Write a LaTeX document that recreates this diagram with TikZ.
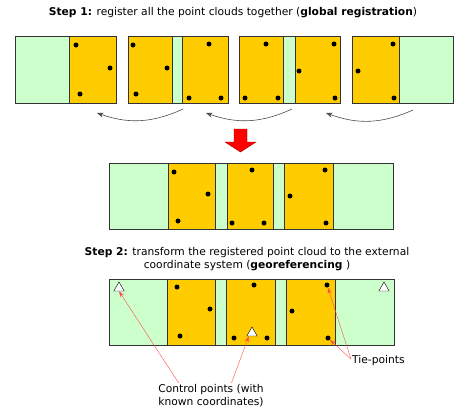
\documentclass[tikz,border=0pt]{standalone}
\usepackage{fontspec}
\setmainfont{DejaVu Sans}
\usetikzlibrary{arrows.meta,positioning,shapes.geometric,calc}

\definecolor{wolke}{HTML}{FFCC00}
\definecolor{rand}{HTML}{CCFFCC}
\definecolor{linie}{HTML}{333333}
\definecolor{zeiger}{HTML}{FF4D4D}

\tikzset{
	gruen/.style={fill=rand,draw=linie,thick},
	gelb/.style={fill=wolke,draw=linie,thick},
	punkt/.style={circle,fill=black,inner sep=0pt,minimum size=5pt},
	pass/.style={regular polygon,regular polygon sides=3,draw=black,fill=white,
		inner sep=0pt,minimum size=12pt},
	titel/.style={font=\fontsize{10.7}{13}\selectfont,align=center},
	notiz/.style={font=\fontsize{10.7}{13}\selectfont,align=left,inner sep=1pt},
}

\begin{document}
\begin{tikzpicture}[x=1pt,y=-1pt]
	\useasboundingbox (0,0) rectangle (459,410);

	\node[titel] (schritteins) at (233,13) {\textbf{Step 1:} register all the point clouds together (\textbf{global registration})};

	% einzelne Punktwolken
	\draw[gruen] (15,36) rectangle (69,103);
	\draw[gelb] (69,36) rectangle (116,103);
	\draw[gelb] (128,36) rectangle (172,103);
	\draw[gruen] (172,36) rectangle (182,103);
	\draw[gelb] (182,36) rectangle (228,103);
	\draw[gelb] (239,36) rectangle (283,103);
	\draw[gruen] (283,36) rectangle (295,103);
	\draw[gelb] (295,36) rectangle (340,103);
	\draw[gelb] (352,36) rectangle (399,103);
	\draw[gruen] (399,36) rectangle (453,103);

	\begin{scope}[every node/.style={punkt}]
		\node (ea) at (76,45) {};
		\node (eb) at (110,68) {};
		\node (ec) at (80,94) {};
		\node (za) at (133,45) {};
		\node (zb) at (167,68) {};
		\node (zc) at (136,94) {};
		\node (zd) at (209,44) {};
		\node (ze) at (189,98) {};
		\node (zf) at (221,98) {};
		\node (da) at (266,44) {};
		\node (db) at (245,98) {};
		\node (dc) at (278,98) {};
		\node (dd) at (334,44) {};
		\node (de) at (299,71) {};
		\node (df) at (335,98) {};
		\node (va) at (393,44) {};
		\node (vb) at (358,71) {};
		\node (vc) at (394,98) {};
	\end{scope}

	\coordinate (eins) at (97,113);
	\coordinate (zwei) at (183,109);
	\coordinate (zweib) at (206,113);
	\coordinate (drei) at (292,109);
	\coordinate (dreib) at (326,113);
	\coordinate (vier) at (413,110);

	\begin{scope}[>={Stealth[length=6.5pt,width=5pt]},draw=black!70,semithick]
		\draw[->] (zwei) to[bend left=22] (eins);
		\draw[->] (drei) to[bend left=22] (zweib);
		\draw[->] (vier) to[bend left=22] (dreib);
	\end{scope}

	% roter Pfeil
	\draw[fill=red,draw=red!60!black,thin] (234,129) -- (247,129) -- (247,142) -- (256,142)
		-- (240.5,152) -- (225,142) -- (234,142) -- cycle;

	% registrierte Punktwolke
	\draw[gruen] (109,163) rectangle (168,229);
	\draw[gelb] (168,163) rectangle (215,229);
	\draw[gruen] (215,163) rectangle (227,229);
	\draw[gelb] (227,163) rectangle (273,229);
	\draw[gruen] (273,163) rectangle (284,229);
	\draw[gelb] (284,163) rectangle (333,229);
	\draw[gruen] (333,163) rectangle (393,229);

	\begin{scope}[every node/.style={punkt}]
		\node (ma) at (174,172) {};
		\node (mb) at (208,194) {};
		\node (mc) at (178,221) {};
		\node (md) at (252,170) {};
		\node (me) at (232,223) {};
		\node (mf) at (264,223) {};
		\node (mg) at (325,170) {};
		\node (mh) at (290,196) {};
		\node (mi) at (326,223) {};
	\end{scope}

	\node[titel] (schrittzwei) at (247,259.5) {\textbf{Step 2:} transform the registered point cloud to the external\\coordinate system (\textbf{georeferencing} )};

	% georeferenzierte Punktwolke
	\draw[gruen] (109,279) rectangle (167,345);
	\draw[gelb] (167,279) rectangle (215,345);
	\draw[gruen] (215,279) rectangle (226,345);
	\draw[gelb] (226,279) rectangle (275,345);
	\draw[gruen] (275,279) rectangle (286,345);
	\draw[gelb] (286,279) rectangle (335,345);
	\draw[gruen] (335,279) rectangle (394,345);

	\begin{scope}[every node/.style={punkt}]
		\node (ga) at (177,287) {};
		\node (gb) at (210,309) {};
		\node (gc) at (180,336) {};
		\node (gd) at (254,285) {};
		\node (ge) at (234,338) {};
		\node (gf) at (267,338) {};
		\node (tieoben) at (327,285) {};
		\node (gh) at (292,311) {};
		\node (tieunten) at (328,338) {};
	\end{scope}

	\node[pass] (passlinks) at (119,288) {};
	\node[pass] (passmitte) at (252,333) {};
	\node[pass] (passrechts) at (384,288) {};

	\node[notiz] (kontrolle) at (211,395.5) {Control points (with\\known coordinates)};
	\node[notiz,anchor=west] (tiepunkte) at (351,361) {Tie-points};

	\begin{scope}[>={Stealth[length=6pt,width=4pt]},draw=zeiger,thin]
		\draw[->] ($(kontrolle.north west)!0.2!(kontrolle.north east)$) -- (passlinks.south);
		\draw[->] ($(kontrolle.north west)!0.69!(kontrolle.north east)$) -- (passmitte.south west);
		\draw[->] ($(tiepunkte.north west)!0.35!(tiepunkte.south west)$) -- (tieoben);
		\draw[->] ($(tiepunkte.north west)!0.35!(tiepunkte.south west)$) -- (tieunten);
	\end{scope}
\end{tikzpicture}
\end{document}
